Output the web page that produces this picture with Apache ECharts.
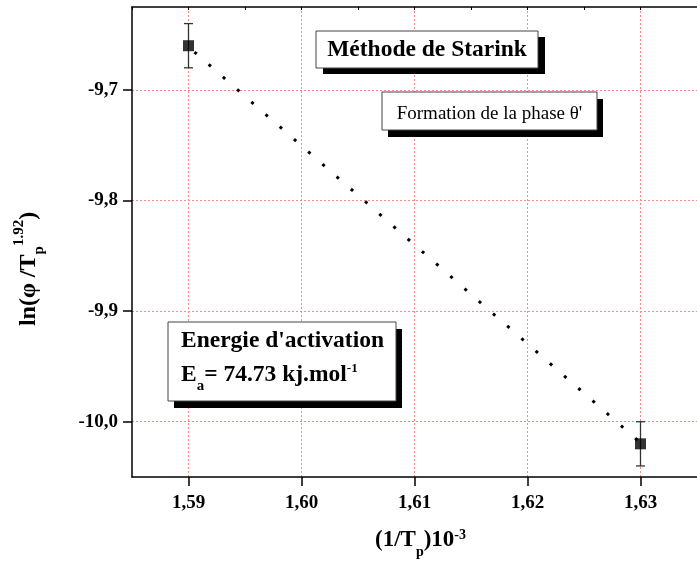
<!DOCTYPE html>
<html><head><meta charset="utf-8">
<script src="https://cdn.jsdelivr.net/npm/echarts@6/dist/echarts.min.js"></script>
<style>html,body{margin:0;padding:0;background:#fff}#c{width:697px;height:563px}</style>
</head><body><div id="c"></div>
<script>
// ---- data ----
const xValues = [1.59, 1.63];
const yValues = [-9.66, -10.02];
const yErrors = [0.02, 0.02];
const fitX = [1.59, 1.63];
const fitY = [-9.661, -10.019];
const xTicks = [1.59, 1.60, 1.61, 1.62, 1.63];
const yTicks = [-10.0, -9.9, -9.8, -9.7];
const topMinorTicks = [1.585, 1.59, 1.595, 1.60, 1.605, 1.61, 1.615, 1.62, 1.625, 1.63];
const xRange = [1.585, 1.635];
const yRange = [-10.05, -9.625];

const FF = 'Liberation Serif';
const chart = echarts.init(document.getElementById('c'), null, {renderer: 'canvas'});

const points = xValues.map((x, i) => [x, yValues[i]]);
const errData = xValues.map((x, i) => [x, yValues[i], yErrors[i]]);
const fitData = fitX.map((x, i) => [x, fitY[i]]);

function tok(size, weight, h, lh) {
  return {fontFamily: FF, fontSize: size, fontWeight: weight, fill: '#000', color: '#000',
          verticalAlign: 'top', height: h, lineHeight: lh};
}

function box(x, y, w, h, dx, dy) {
  return [
    {type: 'rect', shape: {x: x + dx, y: y + dy, width: w, height: h}, style: {fill: '#000'}, z: 100},
    {type: 'rect', shape: {x: x, y: y, width: w, height: h}, style: {fill: '#fff', stroke: '#444', lineWidth: 1}, z: 101}
  ];
}

const gridLineStyle = {color: '#f48a8a', width: 1, type: [2, 2]};

const option = {
  animation: false,
  backgroundColor: '#fff',
  grid: {left: 132, top: 7, right: -10, bottom: 86},
  xAxis: [{
    type: 'value', min: xRange[0], max: xRange[1], position: 'bottom',
    axisLine: {show: true, onZero: false, lineStyle: {color: '#000', width: 1.5}},
    axisTick: {show: true, length: 9, customValues: xTicks, lineStyle: {color: '#000', width: 1.5}},
    axisLabel: {customValues: xTicks, margin: 17, fontFamily: FF, fontWeight: 'bold', fontSize: 19, color: '#000',
      formatter: v => v.toFixed(2).replace('.', ',')},
    splitLine: {show: true, lineStyle: gridLineStyle}
  }, {
    type: 'value', min: xRange[0], max: xRange[1], position: 'top',
    axisLine: {show: true, onZero: false, lineStyle: {color: '#000', width: 1.5}},
    axisTick: {show: true, inside: true, length: 3, customValues: topMinorTicks, lineStyle: {color: '#000', width: 1}},
    axisLabel: {show: false}, splitLine: {show: false}
  }],
  yAxis: {
    type: 'value', min: yRange[0], max: yRange[1],
    axisLine: {show: true, onZero: false, lineStyle: {color: '#000', width: 1.5}},
    axisTick: {show: true, length: 9, customValues: yTicks, lineStyle: {color: '#000', width: 1.5}},
    axisLabel: {customValues: yTicks, margin: 14, fontFamily: FF, fontWeight: 'bold', fontSize: 19, color: '#000',
      formatter: v => v.toFixed(1).replace('.', ',')},
    splitLine: {show: true, lineStyle: gridLineStyle}
  },
  series: [{
    type: 'line', data: fitData, symbol: 'none', silent: true, z: 3,
    lineStyle: {color: '#000', width: 3, type: [3, 15.9], dashOffset: 11}
  }, {
    type: 'custom', data: errData, z: 4,
    renderItem: function (params, api) {
      const x = api.value(0), y = api.value(1), e = api.value(2);
      const top = api.coord([x, y + e]);
      const bot = api.coord([x, y - e]);
      const hw = 4.5;
      const st = {stroke: '#333', lineWidth: 1.3};
      return {type: 'group', children: [
        {type: 'line', shape: {x1: top[0], y1: top[1], x2: bot[0], y2: bot[1]}, style: st},
        {type: 'line', shape: {x1: top[0] - hw, y1: top[1], x2: top[0] + hw, y2: top[1]}, style: st},
        {type: 'line', shape: {x1: bot[0] - hw, y1: bot[1], x2: bot[0] + hw, y2: bot[1]}, style: st}
      ]};
    }
  }, {
    type: 'scatter', data: points, symbol: 'rect', symbolSize: 11, z: 5,
    itemStyle: {color: '#000'}
  }],
  graphic: [].concat(
    box(316, 31, 222, 37, 7, 6),
    [{type: 'text', x: 427, y: 49.5, z: 102, style: {text: 'Méthode de Starink', fontFamily: FF, fontWeight: 'bold',
      fontSize: 23.5, fill: '#000', align: 'center', verticalAlign: 'middle', textAlign: 'center', textVerticalAlign: 'middle'}}],
    box(382, 92, 215, 38, 6, 7),
    [{type: 'text', x: 489.5, y: 114, z: 102, style: {text: "Formation de la phase θ'", fontFamily: FF, fontWeight: 'normal',
      fontSize: 19, fill: '#000', align: 'center', verticalAlign: 'middle', textAlign: 'center', textVerticalAlign: 'middle'}}],
    box(168, 322, 228, 79, 6, 7),
    [{type: 'text', x: 181, y: 329, z: 102, style: {
      text: "{m|Energie d'activation}\n{m|E}{sub|a}{m|= 74.73 kj.mol}{sup|-1}",
      align: 'left', verticalAlign: 'top', textAlign: 'left', textVerticalAlign: 'top', lineHeight: 34,
      fontFamily: FF, fontSize: 23.5, fontWeight: 'bold', fill: '#000',
      rich: {m: tok(23.5, 'bold', 24, 34), sub: tok(15, 'bold', 47, 34), sup: tok(13, 'bold', 12, 34)}
    }}],
    // x axis title
    [{type: 'text', x: 420.5, y: 528.3, z: 102, style: {
      text: '{m|(1/T}{sub|p}{m|)10}{sup|-3}',
      align: 'center', verticalAlign: 'top', textAlign: 'center', textVerticalAlign: 'top', lineHeight: 48,
      fontFamily: FF, fontSize: 23, fontWeight: 'bold', fill: '#000',
      rich: {m: tok(23, 'bold', 24, 48), sub: tok(14, 'bold', 47.6, 48), sup: tok(14, 'bold', 13.6, 48)}
    }}],
    // y axis title
    [{type: 'text', x: 16.6, y: 269, rotation: Math.PI / 2, z: 102, style: {
      text: '{m|ln(φ /T}{sub|p}{sup|1.92}{m|)}',
      align: 'center', verticalAlign: 'top', textAlign: 'center', textVerticalAlign: 'top', lineHeight: 46,
      fontFamily: FF, fontSize: 24, fontWeight: 'bold', fill: '#000',
      rich: {m: tok(24, 'bold', 24, 46), sub: tok(15, 'bold', 44.3, 46), sup: tok(15, 'bold', 5.3, 46)}
    }}]
  )
};
chart.setOption(option);
</script>
</body></html>
